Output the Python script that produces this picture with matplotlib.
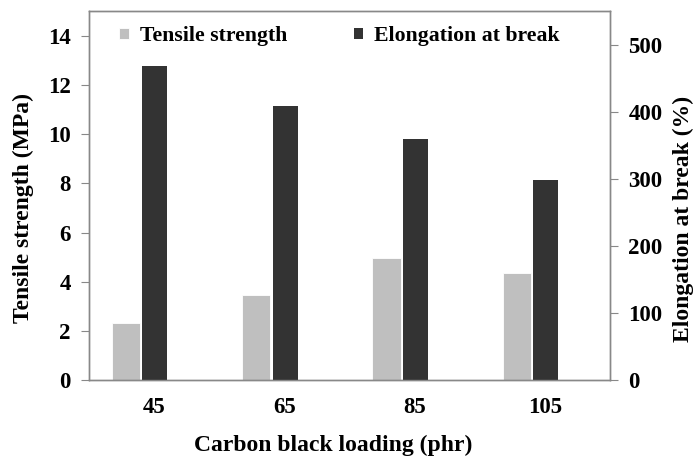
import matplotlib
matplotlib.use("Agg")
import matplotlib.pyplot as plt
import numpy as np

plt.rcParams['font.family'] = ['Liberation Serif', 'DejaVu Serif']
plt.rcParams['font.weight'] = 'bold'

# Data
loading = ['45', '65', '85', '105']
tensile = [2.33, 3.45, 4.98, 4.37]        # MPa
elongation = [469, 408, 360, 299]         # %

gray = '#BFBFBF'
dark = '#333333'
axis_col = '#888888'

fig = plt.figure(figsize=(6.95, 4.67), dpi=100)
ax = fig.add_axes([0.128, 0.186, 0.750, 0.790])
ax2 = ax.twinx()

x = np.arange(len(loading))
b1 = ax.bar(x - 0.217, tensile, width=0.217, color=gray, edgecolor='white', linewidth=0.6,
            label='Tensile strength')
b2 = ax2.bar(x + 0.005, elongation, width=0.192, color=dark, edgecolor='none',
             label='Elongation at break')

ax.set_xlim(-0.5, len(loading) - 0.5)
ax.set_ylim(0, 15)
ax2.set_ylim(0, 550)
ax.set_yticks(np.arange(0, 15, 2))
ax2.set_yticks(np.arange(0, 501, 100))
ax.set_xticks(x)
ax.set_xticklabels(loading)

for a in (ax, ax2):
    for s in a.spines.values():
        s.set_color(axis_col)
        s.set_linewidth(1.0)
    a.tick_params(axis='y', colors=axis_col, labelcolor='black', labelsize=16.5,
                  length=6, width=0.8, direction='out', pad=7)
ax.tick_params(axis='x', length=0, labelsize=16.5, pad=12)

fig.text(0.033, 0.555, 'Tensile strength (MPa)', rotation=90, ha='center', va='center',
         fontsize=17, fontweight='bold')
fig.text(0.983, 0.531, 'Elongation at break (%)', rotation=90, ha='center', va='center',
         fontsize=17, fontweight='bold')
fig.text(0.479, 0.047, 'Carbon black loading (phr)', ha='center', va='center',
         fontsize=17, fontweight='bold')

leg = ax.legend(handles=[b1, b2], ncol=2, frameon=False, loc='upper left',
                bbox_to_anchor=(0.02, 1.012), handlelength=0.45,
                handleheight=0.45, handletextpad=0.5, columnspacing=3.05,
                prop={'weight': 'bold', 'size': 15.7})

fig.savefig('out.png', dpi=100)
